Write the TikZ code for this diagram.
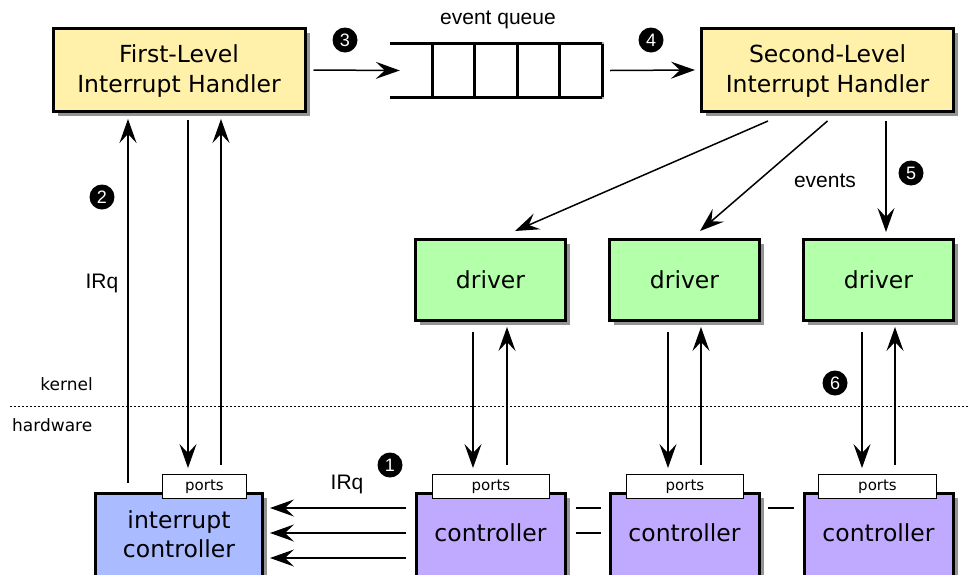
\documentclass[tikz,border=0pt]{standalone}
\usepackage{fontspec}
\setmainfont{DejaVu Sans}
\newfontfamily\arialf{Liberation Sans}
\usetikzlibrary{arrows.meta,calc,shadows}
\definecolor{hyellow}{RGB}{255,240,170}
\definecolor{hgreen}{RGB}{179,255,170}
\definecolor{hpurple}{RGB}{192,170,255}
\definecolor{hblue}{RGB}{170,187,255}
\begin{document}
\begin{tikzpicture}[x=1pt,y=-1pt,
  mainf/.style={font=\fontsize{23.5}{29.5}\selectfont},
  box/.style={draw=black, line width=3pt, inner sep=0pt,
    drop shadow={shadow xshift=4.5pt,shadow yshift=-4.5pt,fill=black!42,opacity=1}},
  handler/.style={box, fill=hyellow, minimum width=252pt, minimum height=83pt, align=center, mainf, text depth=3pt},
  drv/.style={box, fill=hgreen, minimum width=150pt, minimum height=81pt, mainf},
  ctl/.style={box, fill=hpurple, minimum width=149pt, minimum height=86pt},
  portbox/.style={draw=black, fill=white, line width=1.4pt, minimum height=23.5pt, inner sep=0pt,
    font=\fontsize{15}{15}\selectfont},
  arr/.style={line width=1.5pt, -{Stealth[length=24pt,width=17pt,inset=9pt]}},
  link/.style={line width=1.5pt},
  num/.style={circle, fill=black, text=white, minimum size=25pt, inner sep=0pt,
    font=\arialf\fontsize{18}{18}\selectfont},
  lab/.style={inner sep=0pt, font=\arialf\fontsize{21}{21}\selectfont},
  side/.style={inner sep=0pt, font=\fontsize{17}{17}\selectfont},
  qline/.style={line width=2.8pt},
  qshadow/.style={line width=2.8pt, black!30}]
\useasboundingbox (0,0) rectangle (970,574);
\clip (0,0) rectangle (970,574);

% handlers
\node[handler] (flih) at (179,70) {First-Level\\Interrupt Handler};
\node[handler] (slih) at (827.5,70) {Second-Level\\Interrupt Handler};

% event queue
\node[inner sep=0pt, minimum width=212pt, minimum height=53pt] (queue) at (496,70.5) {};
\node[lab] (eq) at (498,20) {event queue};
\begin{scope}[shift={(3,3)}]
  \draw[qshadow] (queue.north west) -- (queue.north east) -- (queue.south east) -- (queue.south west);
\end{scope}
\draw[qline] (queue.north west) -- (queue.north east);
\draw[qline] (queue.south west) -- (queue.south east);
\foreach \f in {0.2,0.4,0.6,0.8,1}
  \draw[qline] ($(queue.north west)!\f!(queue.north east)$) -- ($(queue.south west)!\f!(queue.south east)$);

\node[num] (n3) at (345,40) {3};
\node[num] (n4) at (651,40) {4};
\draw[arr] ([xshift=7pt]flih.east) -- ([xshift=10pt]queue.west);
\draw[arr] ([xshift=8pt]queue.east) -- ([xshift=-5pt]slih.west);

% drivers
\node[drv] (d1) at (490.5,280) {driver};
\node[drv] (d2) at (684.5,280) {driver};
\node[drv] (d3) at (878.5,280) {driver};

\draw[arr] ($(slih.south)+(-59.5,8)$) -- ($(d1.north)+(24.5,-7)$);
\draw[arr] ($(slih.south)+(0,8)$) -- ($(d2.north)+(15.5,-7)$);
\draw[arr] ($(slih.south)+(58.5,8)$) -- ($(d3.north)+(7.5,-6)$);
\node[lab] (ev) at (825,181) {events};
\node[num] (n5) at (911,173) {5};

% kernel / hardware
\draw[line width=1pt, dash pattern=on 2pt off 2pt] (10,406) -- (970,406);
\node[side, anchor=east] (kern) at (93,384) {kernel};
\node[side, anchor=west] (hw) at (12,425) {hardware};

% controllers
\node[ctl, fill=hblue, minimum width=167pt] (ic) at (179,536) {};
\node[mainf, align=center, inner sep=0pt] (ict) at (179,534) {interrupt\\controller};
\node[ctl] (c1) at (490.5,536) {};
\node[ctl] (c2) at (684.5,536) {};
\node[ctl] (c3) at (878.5,536) {};
\node[mainf, inner sep=0pt] (c1t) at (490.5,533) {controller};
\node[mainf, inner sep=0pt] (c2t) at (684.5,533) {controller};
\node[mainf, inner sep=0pt] (c3t) at (878.5,533) {controller};

\node[portbox, minimum width=83.5pt] (icp) at (204.5,486.5) {ports};
\node[portbox, minimum width=116.5pt] (p1) at (491,486.5) {ports};
\node[portbox, minimum width=116.5pt] (p2) at (685,486.5) {ports};
\node[portbox, minimum width=117.5pt] (p3) at (877.5,486.5) {ports};

% interrupt controller <-> first-level handler
\draw[arr] ($(ic.north)+(-51,-8.5)$) -- ($(flih.south)+(-51,6)$);
\draw[arr] ($(flih.south)+(9,7)$) -- ($(icp.north)+(-16.5,-6)$);
\draw[arr] ($(icp.north)+(16.5,-9)$) -- ($(flih.south)+(42,6)$);
\node[lab] (irq1) at (102,283) {IRq};
\node[num] (n2) at (102,197) {2};

% drivers <-> controllers
\draw[arr] ($(d1.south)+(-17.5,10)$) -- ($(p1.north)+(-18,-6)$);
\draw[arr] ($(p1.north)+(16,-9)$) -- ($(d1.south)+(16.5,5)$);
\draw[arr] ($(d2.south)+(-16.5,10)$) -- ($(p2.north)+(-17,-6)$);
\draw[arr] ($(p2.north)+(16,-9)$) -- ($(d2.south)+(16.5,5)$);
\draw[arr] ($(d3.south)+(-16.5,10)$) -- ($(p3.north)+(-15.5,-6)$);
\draw[arr] ($(p3.north)+(17.5,-9)$) -- ($(d3.south)+(16.5,5)$);
\node[num] (n6) at (835,383) {6};

% IRq lines to interrupt controller
\foreach \dy in {-28,-3,22}
  \draw[arr] ($(c1.west)+(-9,\dy)$) -- ($(ic.east)+(6,\dy)$);
\node[lab] (irq2) at (347,484) {IRq};
\node[num] (n1) at (390,465) {1};

% controller links
\draw[link] ($(c1.east)+(9,-28)$) -- ($(c2.west)+(-8,-28)$);
\draw[link] ($(c1.east)+(9,-3)$) -- ($(c2.west)+(-8,-3)$);
\draw[link] ($(c2.east)+(7,-28)$) -- ($(c3.west)+(-9,-28)$);
\end{tikzpicture}
\end{document}
